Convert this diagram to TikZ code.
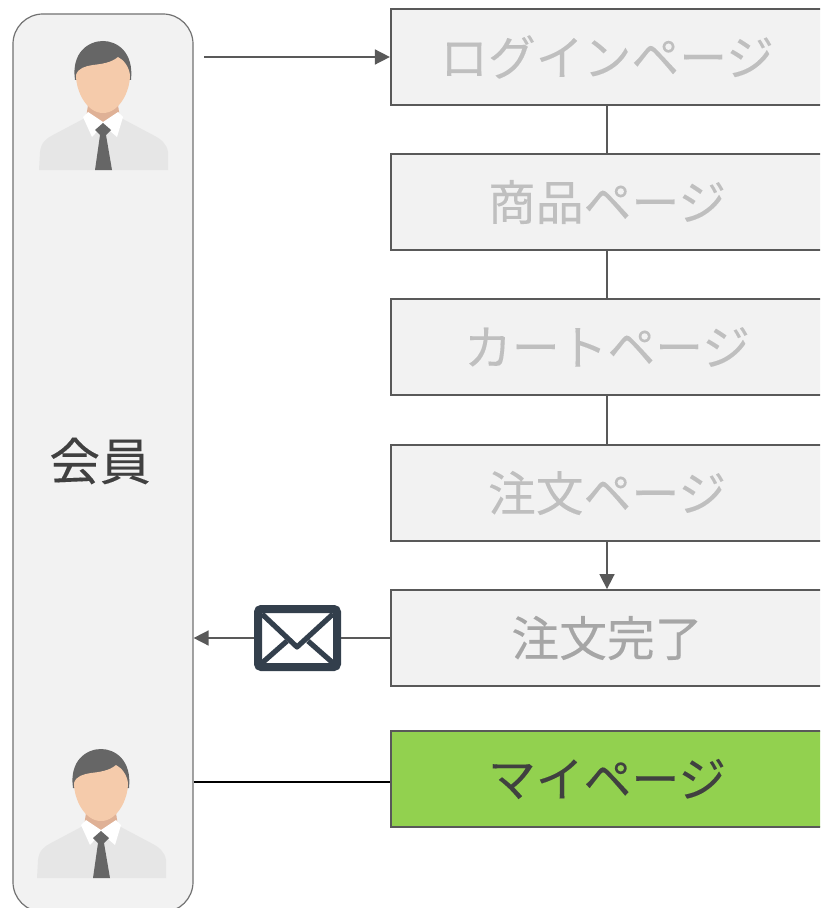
\documentclass[tikz,border=0pt]{standalone}
\usepackage{fontspec}
\setmainfont[FakeBold=0.15]{Noto Sans CJK JP}
\usetikzlibrary{arrows.meta}

\definecolor{boxfill}{HTML}{F2F2F2}
\definecolor{boxline}{HTML}{595959}
\definecolor{fadetext}{HTML}{BFBFBF}
\definecolor{donetext}{HTML}{A6A6A6}
\definecolor{darktext}{HTML}{404040}
\definecolor{mygreen}{HTML}{92D14F}
\definecolor{mailcolor}{HTML}{333F4C}
\definecolor{shirtcolor}{HTML}{E6E6E6}
\definecolor{hairtie}{HTML}{666666}
\definecolor{facecolor}{HTML}{F5CBAB}
\definecolor{neckcolor}{HTML}{DFB196}

\tikzset{
    pagebox/.style={draw=boxline, line width=0.55mm, fill=boxfill, minimum width=108mm,
        minimum height=23.9mm, inner sep=0pt, font=\fontsize{34}{34}\selectfont, text=fadetext},
    link/.style={draw=boxline, line width=0.4mm},
    linkarrow/.style={link, -{Triangle[length=3.75mm,width=3.75mm]}},
    pics/person/.style={code={
        % shirt, neck, collar, tie, then the head
        \fill[shirtcolor] (-64,0) -- (-63,-18) .. controls (-62,-28) and (-56,-32) .. (-50,-35)
            -- (-18,-52) -- (18,-52) -- (50,-35) .. controls (58,-31) and (64,-26) .. (65,-18) -- (65,0) -- cycle;
        \fill[neckcolor] (-15,-65) -- (15,-65) -- (17,-52) -- (0,-44) -- (-17,-52) -- cycle;
        \fill[white] (-20,-53) -- (-15,-58) -- (0,-48) -- (15,-58) -- (20,-53) -- (14,-33)
            -- (0,-45) -- (-11,-33) -- cycle;
        \fill[hairtie] (0,-47) -- (8,-40) -- (3,-35) -- (9,0) -- (-8,0) -- (-3,-35) -- (-8,-40) -- cycle;
        \fill[hairtie] (-28,-90) .. controls (-32,-118) and (-14,-129) .. (0,-129)
            .. controls (14,-129) and (31,-118) .. (28,-90) -- cycle;
        \fill[facecolor] (-27,-95) .. controls (-27,-78) and (-16,-57) .. (0,-57)
            .. controls (16,-57) and (27,-78) .. (27,-95)
            .. controls (26,-103) and (21,-110) .. (15,-113)
            .. controls (8,-107) and (-2,-106) .. (-10,-105)
            .. controls (-17,-104) and (-25,-102) .. (-27,-95) -- cycle;
    }}
}

\begin{document}
\begin{tikzpicture}[x=0.25mm, y=-0.25mm]
    \useasboundingbox (0,0) rectangle (820,908);
    \clip (0,0) rectangle (820,908);

    % the member column
    \node[draw=boxline!85, line width=0.3mm, fill=boxfill, rounded corners=7.5mm, minimum width=45mm,
        minimum height=224.5mm, inner sep=0pt] (member) at (103,463) {};
    \node[font=\fontsize{36}{36}\selectfont, text=darktext] (membertext) at (100,461) {会員};
    \pic at (103,170) {person};
    \pic at (101,878) {person};

    % the pages
    \node[pagebox] (login) at (607,57) {ログインページ};
    \node[pagebox] (product) at (607,202) {商品ページ};
    \node[pagebox] (cart) at (607,347) {カートページ};
    \node[pagebox] (order) at (607,493) {注文ページ};
    \node[pagebox, text=donetext] (done) at (607,638) {注文完了};
    \node[pagebox, fill=mygreen, text=darktext] (mypage) at (607,779) {マイページ};

    % the mail icon
    \coordinate (start) at (204,57);
    \node[draw=mailcolor, line width=2mm, fill=white, rounded corners=0.8mm, minimum width=19.75mm,
        minimum height=14.5mm, inner sep=0pt] (mail) at (297.5,638) {};

    % draw the arrows
    \draw[linkarrow] (start) -- (login);
    \draw[link] (login) -- (product);
    \draw[link] (product) -- (cart);
    \draw[link] (cart) -- (order);
    \draw[linkarrow] (order) -- (done);
    \draw[link] (done) -- (mail);
    \draw[linkarrow] (mail) -- (mail -| member.east);
    \draw[black, line width=0.4mm] (member.east |- 0,782) -- (mypage.west |- 0,782);

    % the envelope lines
    \draw[mailcolor, line width=1.3mm, line join=round] (262,614) -- (297,647) -- (333,614);
    \draw[mailcolor, line width=1.3mm] (262,663) -- (287,641) (333,663) -- (308,641);
\end{tikzpicture}
\end{document}
